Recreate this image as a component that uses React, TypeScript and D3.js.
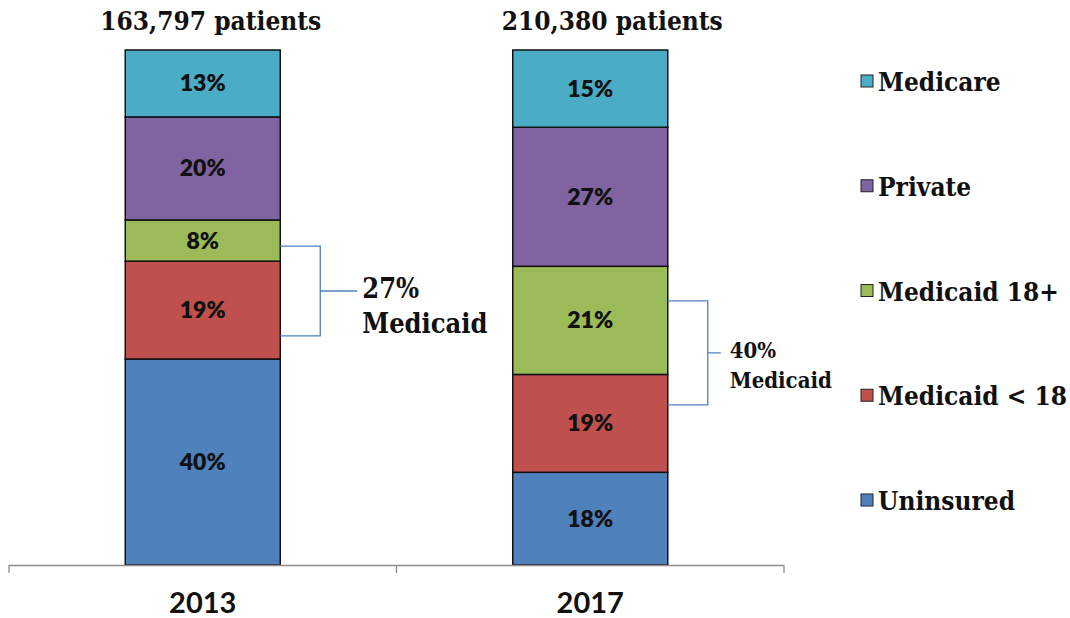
import { useEffect, useRef } from 'react';
import * as d3 from 'd3';

const years = ['2013', '2017'];
const patientTotals = ['163,797 patients', '210,380 patients'];
const seriesNames = ['Uninsured', 'Medicaid < 18', 'Medicaid 18+', 'Private', 'Medicare'];
const seriesColors = ['#4F81BD', '#C0504D', '#9BBB59', '#8064A2', '#4BACC6'];
const values2013 = [40, 19, 8, 20, 13];
const values2017 = [18, 19, 21, 27, 15];
const medicaidTotals = ['27%', '40%'];
// bracket ends, in percent of the bar
const bracketTop = [61.9, 51.3];
const bracketBottom = [44.5, 31.1];

const slab = '"DejaVu Serif Condensed", "DejaVu Serif", serif';
const sans = 'Lato, "Open Sans", sans-serif';

export default function App() {
  const ref = useRef<SVGSVGElement>(null);

  useEffect(() => {
    const svg = d3.select(ref.current);
    svg.selectAll('*').remove();

    const x = d3.scaleBand().domain(years).range([9, 784]);
    const y = d3.scaleLinear().domain([0, 100]).range([565, 50]);
    const barW = x.bandwidth() * 0.4;

    const rows = [values2013, values2017];
    years.forEach((yr, i) => {
      const vals = rows[i];
      const cx = x(yr)! + x.bandwidth() / 2;
      let acc = 0;
      const segs = vals.map((v, j) => {
        const s = { v, j, y0: acc, y1: acc + v };
        acc += v;
        return s;
      });
      const g = svg.append('g');
      g.selectAll('rect')
        .data(segs)
        .enter()
        .append('rect')
        .attr('x', cx - barW / 2)
        .attr('width', barW)
        .attr('y', d => y(d.y1))
        .attr('height', d => y(d.y0) - y(d.y1))
        .attr('fill', d => seriesColors[d.j])
        .attr('stroke', '#111')
        .attr('stroke-width', 1.5);
      g.selectAll('text.pct')
        .data(segs)
        .enter()
        .append('text')
        .attr('class', 'pct')
        .attr('x', cx)
        .attr('y', d => (y(d.y0) + y(d.y1)) / 2 + 8)
        .attr('text-anchor', 'middle')
        .style('font-family', sans)
        .style('font-weight', 800)
        .style('font-size', '23px')
        .attr('fill', '#111')
        .text(d => `${d.v}%`);

      // patient totals above bars
      svg
        .append('text')
        .attr('x', cx + (i === 0 ? 8 : 22))
        .attr('y', 30)
        .attr('text-anchor', 'middle')
        .style('font-family', slab)
        .style('font-weight', 700)
        .style('font-size', '26px')
        .attr('fill', '#111')
        .text(patientTotals[i]);

      // medicaid bracket
      const bx = cx + barW / 2;
      const bw = 40;
      const stub = i === 0 ? 37 : 13;
      const yt = y(bracketTop[i]);
      const yb = y(bracketBottom[i]);
      const ym = (yt + yb) / 2;
      svg
        .append('path')
        .attr('d', `M${bx},${yt}H${bx + bw}V${yb}H${bx} M${bx + bw},${ym}H${bx + bw + stub}`)
        .attr('fill', 'none')
        .attr('stroke', '#4F81BD')
        .attr('stroke-width', 1.3);
      const fs = i === 0 ? 27 : 22;
      const lh = i === 0 ? 35 : 30;
      const tx = bx + bw + stub + (i === 0 ? 5 : 9);
      const lab = svg
        .append('text')
        .attr('x', tx)
        .attr('y', ym + (i === 0 ? 7 : 5))
        .style('font-family', slab)
        .style('font-weight', 700)
        .style('font-size', `${fs}px`)
        .attr('fill', '#111');
      lab.append('tspan').text(medicaidTotals[i]);
      lab.append('tspan').attr('x', tx).attr('dy', lh).text('Medicaid');
    });

    // x axis
    const axis = d3.axisBottom(x).tickSize(8).tickFormat(() => '');
    const ax = svg.append('g').attr('transform', 'translate(0,565)').call(axis);
    ax.selectAll('.tick').remove();
    const edges = [x(years[0])!, x(years[1])!, x(years[1])! + x.bandwidth()];
    ax.select('.domain')
      .attr('d', `M${edges[0]},0.5H${edges[2]}`)
      .attr('stroke', '#8c8c8c')
      .attr('stroke-width', 1.3);
    ax.selectAll('line.edge')
      .data(edges)
      .enter()
      .append('line')
      .attr('class', 'edge')
      .attr('x1', d => d)
      .attr('x2', d => d)
      .attr('y1', 0)
      .attr('y2', 8)
      .attr('stroke', '#8c8c8c')
      .attr('stroke-width', 1.3);

    svg
      .selectAll('text.year')
      .data(years)
      .enter()
      .append('text')
      .attr('class', 'year')
      .attr('x', d => x(d)! + x.bandwidth() / 2)
      .attr('y', 613)
      .attr('text-anchor', 'middle')
      .style('font-family', sans)
      .style('font-weight', 700)
      .style('font-size', '29px')
      .attr('fill', '#111')
      .text(d => d);

    // legend, top item = last series
    const legendY = d3.scalePoint().domain([...seriesNames].reverse()).range([81, 500]);
    const item = svg
      .selectAll('g.leg')
      .data(seriesNames)
      .enter()
      .append('g')
      .attr('class', 'leg')
      .attr('transform', d => `translate(861, ${legendY(d)})`);
    item
      .append('rect')
      .attr('x', 0)
      .attr('y', -6)
      .attr('width', 12)
      .attr('height', 12)
      .attr('fill', (d, i) => seriesColors[i])
      .attr('stroke', '#222')
      .attr('stroke-width', 1);
    item
      .append('text')
      .attr('x', 17)
      .attr('y', 10)
      .style('font-family', slab)
      .style('font-weight', 700)
      .style('font-size', '26px')
      .attr('fill', '#111')
      .text(d => d);
  }, []);

  return (
    <svg
      ref={ref}
      width={1070}
      height={618}
      style={{ position: 'absolute', left: 0, top: 0, background: '#fff' }}
    />
  );
}
